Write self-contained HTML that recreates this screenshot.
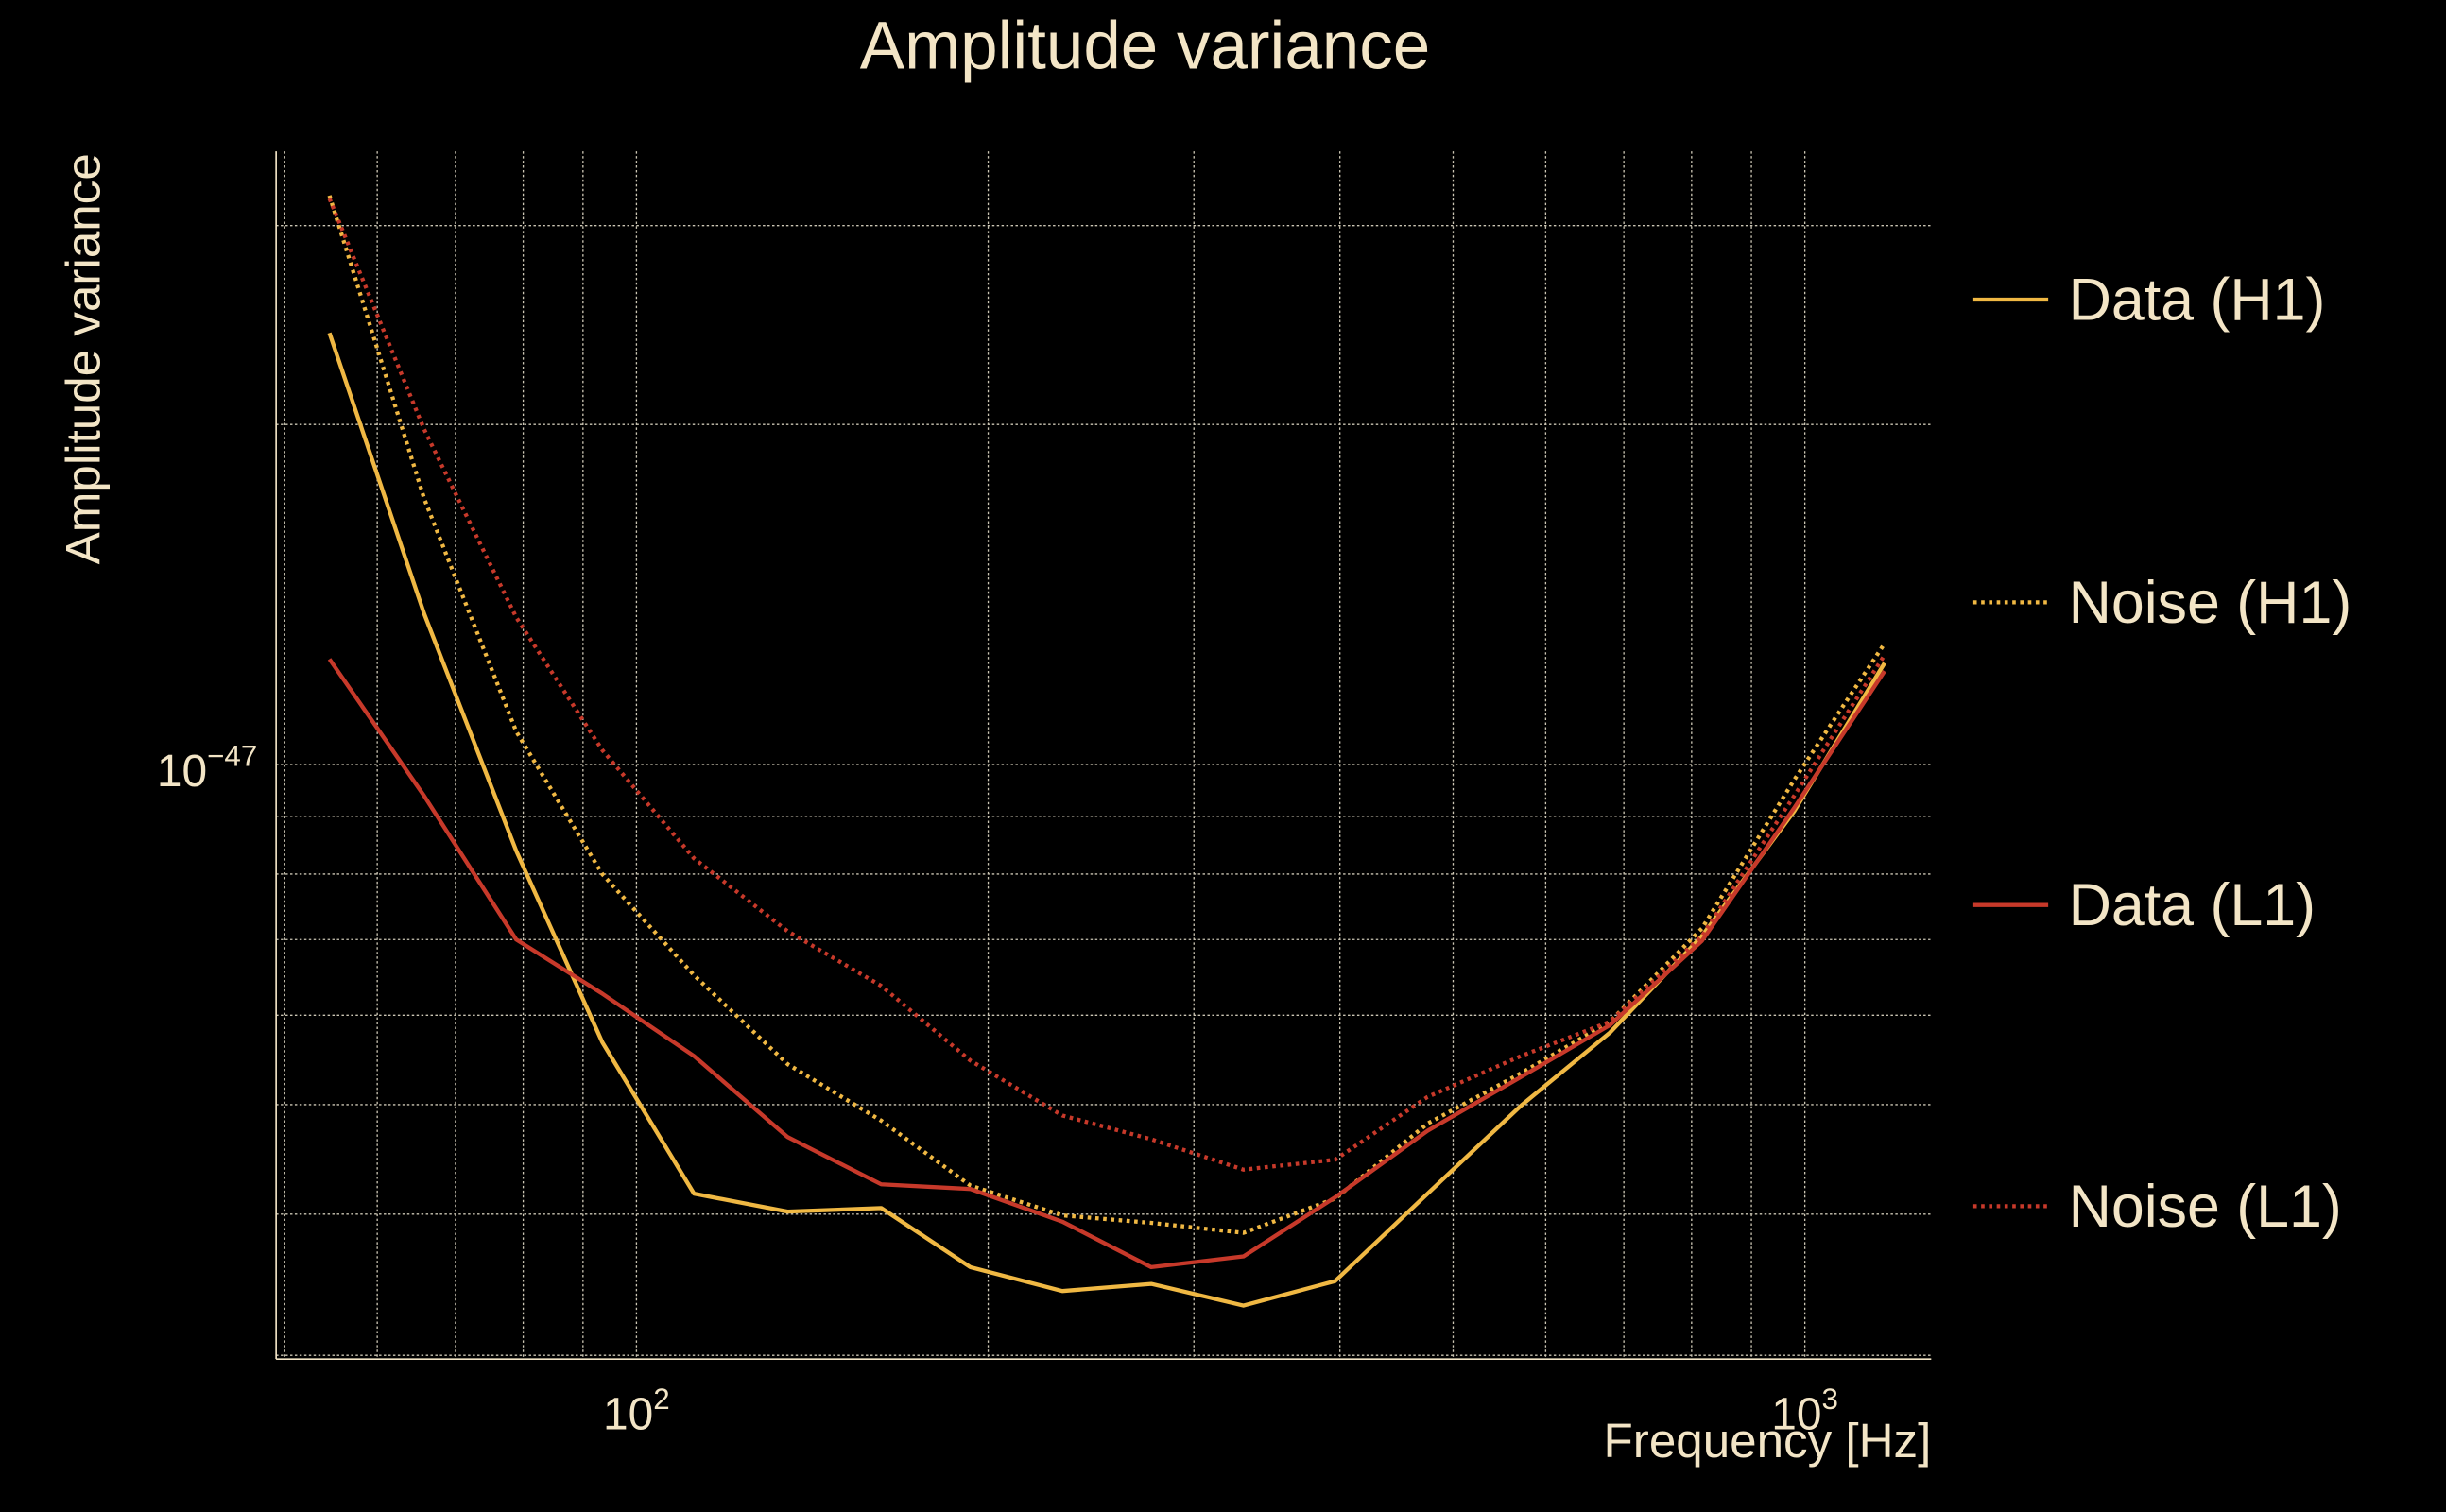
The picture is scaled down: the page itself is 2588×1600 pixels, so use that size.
<!DOCTYPE html>
<html><head><meta charset="utf-8">
<style>
html,body{margin:0;padding:0;background:#000;}
svg{display:block;}
text{font-family:"Liberation Sans",sans-serif;fill:#f3e5c6;}
</style></head>
<body>
<svg id="chart" width="2588" height="1600" viewBox="0 0 1568 969" preserveAspectRatio="none" xmlns="http://www.w3.org/2000/svg">
<rect width="1568" height="969" fill="#000"/>
<text x="734" y="44" font-size="43" text-anchor="middle">Amplitude variance</text>
<text transform="translate(64,230) rotate(-90)" font-size="31" text-anchor="middle">Amplitude variance</text>
<text x="1238" y="934" font-size="31" text-anchor="end">Frequency [Hz]</text>
<g id="grid"></g>
<g id="series"></g>
<g id="legend"></g>
</svg>
<script>
// Data (values in units of 1e-48)
const freqs = [54.6,65.8,78.9,93.5,112.0,134.7,162.0,193.1,231.5,275.8,330.7,396.3,475.4,571.5,680.9,816.4,979,1170];
const dataH1 = [24.1,13.6,8.39,5.68,4.17,4.02,4.05,3.59,3.42,3.47,3.32,3.49,4.17,4.99,5.79,7.05,9.09,12.3];
const noiseH1 = [31.9,17.2,10.7,8.0,6.51,5.43,4.84,4.24,3.99,3.93,3.85,4.13,4.81,5.33,5.92,7.16,9.69,12.8];
const dataL1 = [12.4,9.38,7.0,6.27,5.52,4.68,4.25,4.21,3.94,3.59,3.67,4.14,4.74,5.29,5.88,6.98,9.15,12.1];
const noiseL1 = [31.7,19.8,13.5,10.3,8.26,7.12,6.37,5.47,4.89,4.66,4.38,4.47,5.08,5.52,5.92,7.05,9.38,12.5];
const xGridVals = [50,60,70,80,90,100,200,300,400,500,600,700,800,900,1000];
const yGridVals = [3,4,5,6,7,8,9,10,20,30];
const seriesNames = ["Data (H1)","Noise (H1)","Data (L1)","Noise (L1)"];

const NS="http://www.w3.org/2000/svg";
const L={x0:177,x1:1238,y0:97,y1:871};
function xs(f){return 408+749*(Math.log10(f)-2);}
function ys(v){return 490-724*(Math.log10(v)-1);}
function mk(tag,attrs,parent){const e=document.createElementNS(NS,tag);for(const k in attrs)e.setAttribute(k,attrs[k]);parent.appendChild(e);return e;}

const grid=document.getElementById('grid');
xGridVals.forEach(f=>{
  const x=xs(f);
  const g=mk('line',{x1:x,x2:x,y1:L.y0,y2:L.y1,stroke:'#ccc6b4','stroke-width':0.8,'stroke-dasharray':'1.5,1.5'},grid);
  
  
});
yGridVals.forEach(v=>{
  const y=ys(v);
  const g=mk('line',{x1:L.x0,x2:L.x1,y1:y,y2:y,stroke:'#ccc6b4','stroke-width':0.8,'stroke-dasharray':'1.5,1.5'},grid);
  
  
});
const ax1=mk('line',{x1:L.x0,x2:L.x0,y1:L.y0,y2:L.y1,stroke:'#f3e5c6','stroke-width':1},grid);


const ax2=mk('line',{x1:L.x0,x2:L.x1,y1:L.y1,y2:L.y1,stroke:'#f3e5c6','stroke-width':1},grid);



function tickLabel(x,y,base,exp,anchor,name){
  const t=mk('text',{x:x,y:y,'font-size':29,'text-anchor':anchor},grid);
  
  
  const a=mk('tspan',{},t);a.textContent=base;
  const b=mk('tspan',{dy:-13,'font-size':19},t);b.textContent=exp;
}
tickLabel(408,916,'10','2','middle','x-tick-label-100');
tickLabel(1157,916,'10','3','middle','x-tick-label-1000');
tickLabel(165,504,'10','\u221247','end','y-tick-label-1e-47');

const ser=document.getElementById('series');
const defs=[
 {vals:dataH1,color:'#f0b843',dash:null,name:'data-h1-line'},
 {vals:noiseH1,color:'#f0b843',dash:'2.2,2.8',name:'noise-h1-line'},
 {vals:dataL1,color:'#c7392a',dash:null,name:'data-l1-line'},
 {vals:noiseL1,color:'#c7392a',dash:'2.2,2.8',name:'noise-l1-line'}
];
defs.forEach((d,i)=>{
  const pts=freqs.map((f,j)=>xs(f).toFixed(1)+','+ys(d.vals[j]).toFixed(1)).join(' ');
  const a={points:pts,fill:'none',stroke:d.color,'stroke-width':2.6,'stroke-linejoin':'round'};
  if(d.dash)a['stroke-dasharray']=d.dash;
  const p=mk('polyline',a,ser);
  
  
});

const leg=document.getElementById('legend');
const legY=[192,386,580,773];
defs.forEach((d,i)=>{
  const a={x1:1265,x2:1313,y1:legY[i],y2:legY[i],stroke:d.color,'stroke-width':2.6};
  if(d.dash)a['stroke-dasharray']=d.dash;
  const l=mk('line',a,leg);
  
  
  const t=mk('text',{x:1326,y:legY[i]+13,'font-size':38},leg);
  
  
  t.textContent=seriesNames[i];
});
</script>
</body></html>
